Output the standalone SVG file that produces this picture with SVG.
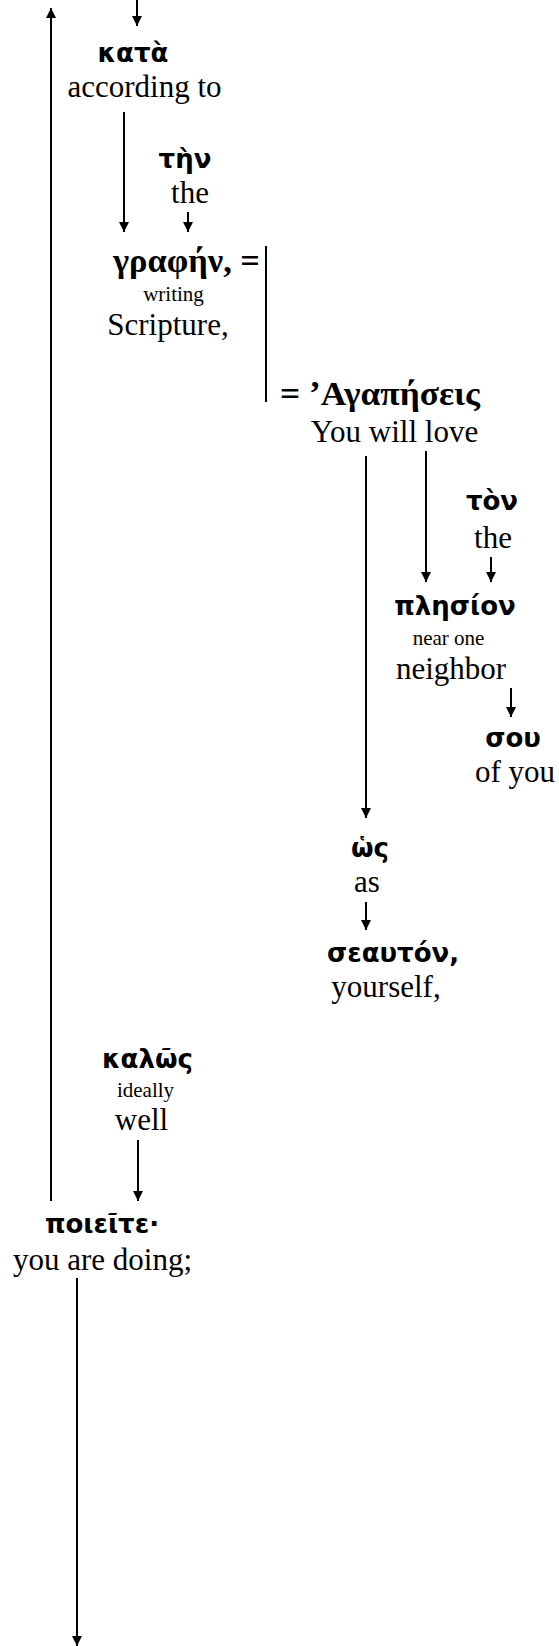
<svg xmlns="http://www.w3.org/2000/svg" width="559" height="1646" viewBox="0 0 559 1646">
<style>
.g{font-family:"DejaVu Sans","Noto Sans",sans-serif;font-weight:bold;font-size:26px;text-anchor:middle;fill:#000}
.gs{font-family:"Liberation Serif","DejaVu Serif",serif;font-weight:bold;font-size:33px;fill:#000}
.e{font-family:"Liberation Serif","Times New Roman",serif;font-size:31px;text-anchor:middle;fill:#000}
.s{font-family:"Liberation Serif","Times New Roman",serif;font-size:21px;text-anchor:middle;fill:#000}
.c line{stroke:#000;stroke-width:2;fill:none}
.a{marker-end:url(#ah)}
</style>
<defs>
<marker id="ah" viewBox="0 0 10 10" refX="10" refY="5" markerWidth="10" markerHeight="10" orient="auto" markerUnits="userSpaceOnUse"><path d="M0,0 L10,5 L0,10 z" fill="#000"/></marker>
</defs>
<g id="connectors" class="c">
<line class="a" x1="51" y1="1201" x2="51" y2="8"/>
<line class="a" x1="137" y1="0" x2="137" y2="26"/>
<line class="a" x1="124" y1="112" x2="124" y2="232"/>
<line class="a" x1="188" y1="212" x2="188" y2="232"/>
<line x1="266" y1="246" x2="266" y2="402"/>
<line class="a" x1="366" y1="456" x2="366" y2="818"/>
<line class="a" x1="426" y1="451" x2="426" y2="582"/>
<line class="a" x1="491" y1="557" x2="491" y2="582"/>
<line class="a" x1="511" y1="688" x2="511" y2="717"/>
<line class="a" x1="366" y1="902" x2="366" y2="930"/>
<line class="a" x1="138" y1="1140" x2="138" y2="1201"/>
<line class="a" x1="77" y1="1278" x2="77" y2="1646"/>
</g>
<g id="kata"><text class="g" x="133" y="62">κατὰ</text><text class="e" x="144.5" y="97">according to</text></g>
<g id="ten"><text class="g" x="185" y="168">τὴν</text><text class="e" x="190" y="203">the</text></g>
<g id="graphen"><text class="gs" x="113" y="272" textLength="147" lengthAdjust="spacingAndGlyphs">γραφήν, =</text><text class="s" x="173.5" y="301">writing</text><text class="e" x="168" y="335">Scripture,</text></g>
<g id="agapeseis"><text class="gs" x="280" y="405" textLength="200" lengthAdjust="spacingAndGlyphs">= ʼΑγαπήσεις</text><text class="e" x="394.5" y="442">You will love</text></g>
<g id="ton"><text class="g" x="492" y="510">τὸν</text><text class="e" x="493" y="548">the</text></g>
<g id="plesion"><text class="g" x="455" y="615">πλησίον</text><text class="s" x="448.5" y="645">near one</text><text class="e" x="451" y="679">neighbor</text></g>
<g id="sou"><text class="g" x="513" y="747">σου</text><text class="e" x="515" y="782">of you</text></g>
<g id="hos"><text class="g" x="370" y="857">ὡς</text><text class="e" x="367" y="892">as</text></g>
<g id="seauton"><text class="g" x="393" y="962">σεαυτόν,</text><text class="e" x="386" y="997">yourself,</text></g>
<g id="kalos"><text class="g" x="147.5" y="1068">καλῶς</text><text class="s" x="145.5" y="1097">ideally</text><text class="e" x="141.5" y="1130">well</text></g>
<g id="poieite"><text class="g" x="102" y="1233">ποιεῖτε·</text><text class="e" x="102.5" y="1270">you are doing;</text></g>
</svg>
